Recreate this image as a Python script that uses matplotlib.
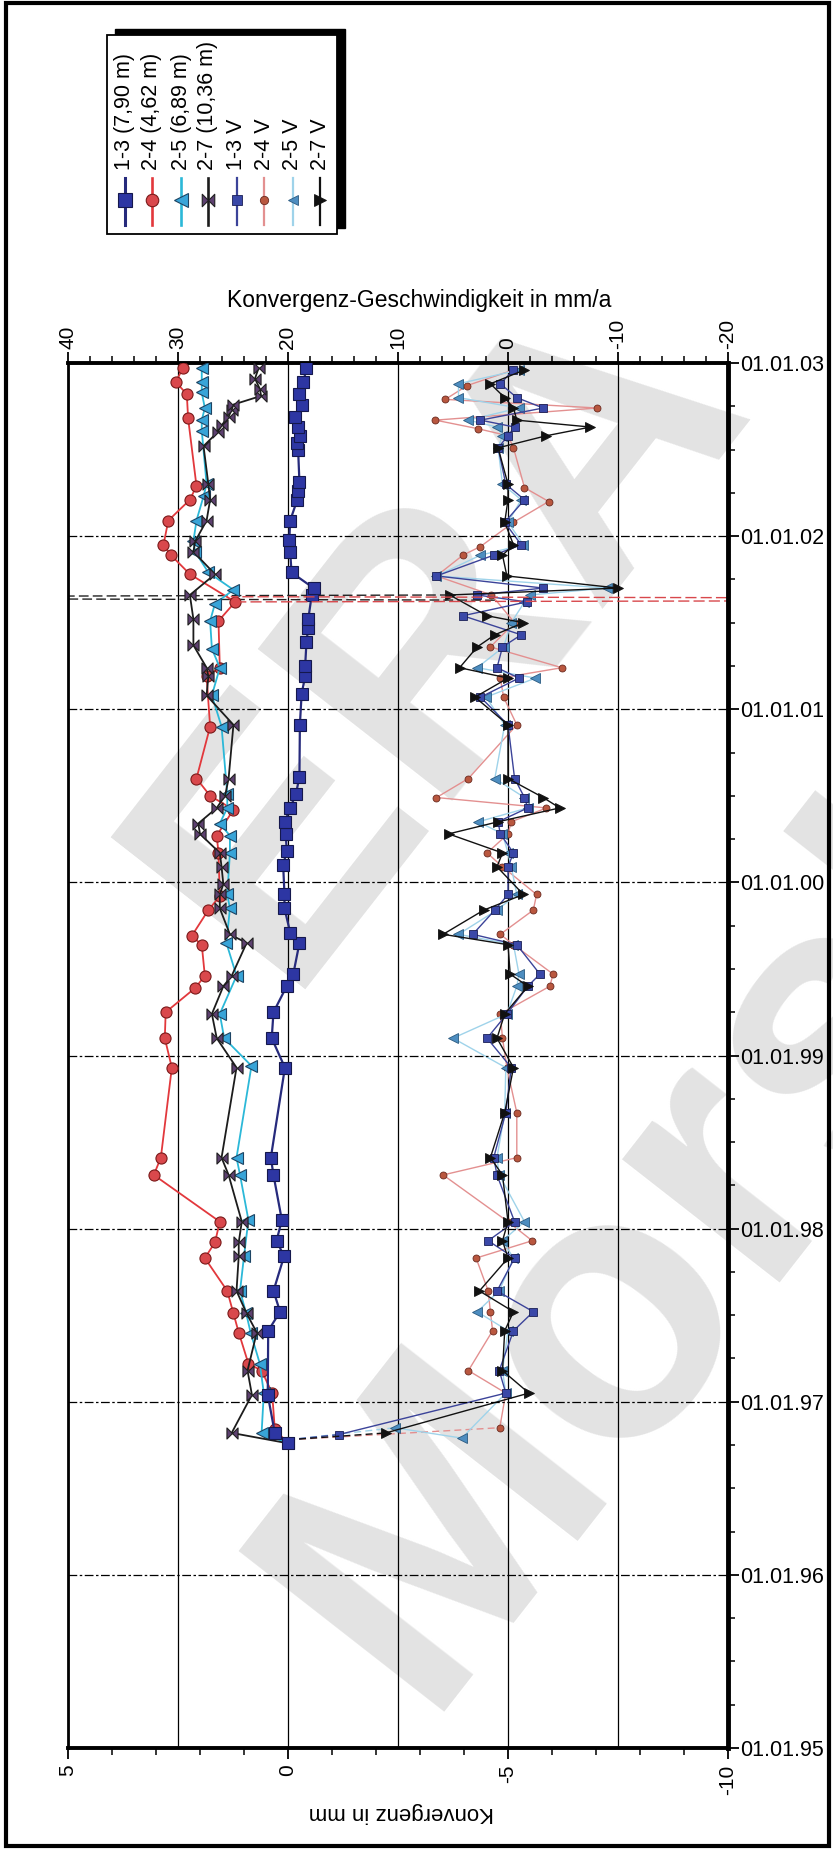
import numpy as np
import matplotlib.pyplot as plt
from matplotlib.lines import Line2D
from matplotlib.patches import Rectangle
from matplotlib.path import Path
from matplotlib.ticker import MultipleLocator

plt.rcParams['font.family'] = ['Liberation Sans', 'DejaVu Sans']

# ---- data: dates as decimal years, convergence in mm, rates in mm/a ----
labels = ['1-3 (7,90 m)', '2-4 (4,62 m)', '2-5 (6,89 m)', '2-7 (10,36 m)',
          '1-3 V', '2-4 V', '2-5 V', '2-7 V']

d13 = [1996.76, 1996.82, 1997.04, 1997.41, 1997.52, 1997.64, 1997.84, 1997.93, 1998.05, 1998.31,
       1998.41, 1998.93, 1999.10, 1999.25, 1999.40, 1999.47, 1999.65, 1999.71, 1999.85, 1999.93,
       2000.10, 2000.18, 2000.28, 2000.35, 2000.43, 2000.51, 2000.61, 2000.91, 2001.09, 2001.19,
       2001.25, 2001.39, 2001.47, 2001.52, 2001.66, 2001.70, 2001.79, 2001.91, 2001.98, 2002.09,
       2002.21, 2002.26, 2002.31, 2002.50, 2002.54, 2002.58, 2002.63, 2002.69, 2002.76, 2002.82,
       2002.89, 2002.97]
k13 = [0.0, 0.30, 0.46, 0.45, 0.18, 0.33, 0.09, 0.26, 0.14, 0.33,
       0.39, 0.07, 0.37, 0.33, 0.03, -0.12, -0.26, -0.05, 0.08, 0.08,
       0.11, 0.03, 0.05, 0.07, -0.05, -0.18, -0.26, -0.27, -0.31, -0.39,
       -0.39, -0.42, -0.46, -0.46, -0.54, -0.58, -0.08, -0.05, -0.03, -0.05,
       -0.21, -0.23, -0.26, -0.23, -0.21, -0.27, -0.23, -0.16, -0.31, -0.26,
       -0.35, -0.42]

d24 = [1996.76, 1996.84, 1997.05, 1997.18, 1997.22, 1997.40, 1997.51, 1997.64, 1997.83, 1997.92,
       1998.04, 1998.31, 1998.41, 1998.93, 1999.10, 1999.25, 1999.39, 1999.46, 1999.64, 1999.69,
       1999.84, 1999.92, 2000.17, 2000.27, 2000.42, 2000.50, 2000.60, 2000.90, 2001.19, 2001.24,
       2001.51, 2001.62, 2001.78, 2001.89, 2001.95, 2002.09, 2002.21, 2002.29, 2002.68, 2002.82,
       2002.89, 2002.97]
k24 = [0.0, 0.30, 0.36, 0.60, 0.90, 1.12, 1.24, 1.38, 1.89, 1.66,
       1.55, 3.05, 2.89, 2.64, 2.80, 2.78, 2.11, 1.89, 1.96, 2.19,
       1.81, 1.55, 1.58, 1.62, 1.24, 1.77, 2.08, 1.77, 1.85, 1.55,
       1.58, 1.20, 2.23, 2.66, 2.83, 2.72, 2.23, 2.08, 2.27, 2.30,
       2.55, 2.39]

d25 = [1996.76, 1996.82, 1997.05, 1997.22, 1997.40, 1997.51, 1997.64, 1997.84, 1998.05, 1998.31,
       1998.41, 1998.94, 1999.10, 1999.24, 1999.46, 1999.65, 1999.85, 1999.93, 2000.17, 2000.27,
       2000.34, 2000.43, 2000.51, 2000.90, 2001.08, 2001.24, 2001.35, 2001.51, 2001.61, 2001.69,
       2001.79, 2001.91, 2001.97, 2002.09, 2002.23, 2002.30, 2002.61, 2002.67, 2002.74, 2002.83,
       2002.89, 2002.97]
k25 = [0.0, 0.60, 0.55, 0.64, 0.85, 0.95, 1.09, 1.00, 0.90, 1.09,
       1.17, 0.83, 1.45, 1.55, 1.17, 1.40, 1.32, 1.38, 1.32, 1.32,
       1.55, 1.38, 1.38, 1.51, 1.73, 1.55, 1.73, 1.77, 1.66, 1.24,
       1.81, 2.11, 2.15, 2.08, 1.92, 1.85, 1.96, 1.96, 1.89, 1.96,
       1.96, 1.96]

d27 = [1996.76, 1996.82, 1997.04, 1997.18, 1997.40, 1997.51, 1997.64, 1997.84, 1997.92, 1998.04,
       1998.31, 1998.41, 1998.93, 1999.10, 1999.24, 1999.40, 1999.46, 1999.65, 1999.70, 1999.85,
       1999.93, 1999.99, 2000.09, 2000.17, 2000.28, 2000.34, 2000.43, 2000.50, 2000.60, 2000.91,
       2001.08, 2001.19, 2001.24, 2001.37, 2001.52, 2001.66, 2001.78, 2001.91, 2001.97, 2002.09,
       2002.21, 2002.30, 2002.52, 2002.60, 2002.64, 2002.69, 2002.73, 2002.76, 2002.81, 2002.85,
       2002.91, 2002.97]
k27 = [0.0, 1.28, 0.82, 0.92, 0.71, 0.94, 1.17, 1.12, 1.12, 1.05,
       1.35, 1.51, 1.17, 1.62, 1.73, 1.47, 1.28, 0.94, 1.32, 1.55,
       1.55, 1.47, 1.51, 1.55, 2.00, 2.04, 1.62, 1.43, 1.35, 1.24,
       1.85, 1.81, 1.85, 2.15, 2.15, 2.23, 1.66, 2.15, 2.11, 1.85,
       1.77, 1.81, 1.92, 1.60, 1.51, 1.35, 1.28, 1.24, 0.61, 0.64,
       0.75, 0.67]

dv13 = [1996.78, 1996.81, 1997.05, 1997.18, 1997.41, 1997.52, 1997.64, 1997.83, 1997.93, 1998.04,
        1998.31, 1998.41, 1998.67, 1998.93, 1999.10, 1999.24, 1999.40, 1999.47, 1999.64, 1999.70,
        1999.84, 1999.93, 2000.09, 2000.17, 2000.28, 2000.35, 2000.43, 2000.49, 2000.60, 2000.91,
        2001.07, 2001.18, 2001.24, 2001.36, 2001.43, 2001.54, 2001.62, 2001.66, 2001.70, 2001.77,
        2001.89, 2001.95, 2002.08, 2002.21, 2002.30, 2002.51, 2002.58, 2002.63, 2002.67, 2002.74,
        2002.80, 2002.88, 2002.96]
v13 = [20.0, 15.4, 0.2, 0.8, -0.5, -2.3, 1.0, -0.6, 1.8, -0.6,
       1.0, 1.3, 0.2, -0.3, 1.9, 0.1, -1.8, -2.9, -0.8, 3.2,
       1.2, 0.0, 0.0, -0.5, 0.7, 0.9, -1.8, -1.5, -0.6, 0.0,
       2.5, -1.0, 1.0, 0.5, -1.2, 4.1, -1.7, 2.8, -3.2, 6.5,
       1.3, -1.2, 0.3, -1.5, 0.2, 0.9, 0.0, -0.6, 2.5, -3.2,
       -0.8, 0.7, -0.5]

dv24 = [1996.78, 1996.85, 1997.05, 1997.18, 1997.41, 1997.52, 1997.64, 1997.83, 1997.93, 1998.04,
        1998.31, 1998.41, 1998.67, 1998.93, 1999.10, 1999.24, 1999.40, 1999.47, 1999.64, 1999.70,
        1999.84, 1999.93, 2000.09, 2000.17, 2000.28, 2000.35, 2000.43, 2000.49, 2000.60, 2000.91,
        2001.07, 2001.18, 2001.24, 2001.36, 2001.50, 2001.66, 2001.77, 2001.89, 2001.94, 2002.08,
        2002.20, 2002.28, 2002.51, 2002.58, 2002.62, 2002.67, 2002.74, 2002.79, 2002.87, 2002.96]
v24 = [20.0, 0.75, 0.2, 3.6, 1.4, 1.6, 1.8, 2.9, -2.2, 0.0,
       5.9, -0.8, -0.8, 0.1, 0.5, 0.7, -3.8, -4.1, -0.5, 0.7,
       -2.3, -2.6, 0.5, 1.9, 0.0, -0.3, -3.5, 6.5, 3.6, -0.8,
       0.4, 0.7, -4.9, 1.6, -0.6, 1.5, 6.5, 4.1, 2.5, -0.5,
       -3.7, -1.5, -0.5, 0.0, 2.7, 6.6, -8.1, 5.7, 3.7, -0.5]

dv25 = [1996.78, 1996.85, 1996.79, 1997.05, 1997.18, 1997.41, 1997.52, 1997.64, 1997.83, 1997.93,
        1998.04, 1998.31, 1998.41, 1998.67, 1998.93, 1999.10, 1999.24, 1999.40, 1999.47, 1999.64,
        1999.70, 1999.84, 1999.93, 2000.09, 2000.17, 2000.28, 2000.35, 2000.43, 2000.49, 2000.60,
        2000.91, 2001.07, 2001.18, 2001.24, 2001.36, 2001.50, 2001.62, 2001.66, 2001.70, 2001.77,
        2001.89, 2001.95, 2002.08, 2002.21, 2002.30, 2002.51, 2002.58, 2002.63, 2002.67, 2002.74,
        2002.80, 2002.88, 2002.96]
v25 = [20.0, 10.3, 4.2, 0.2, 0.5, 0.0, 2.8, 0.8, -0.5, 0.5,
       -1.5, 0.8, 1.0, 0.3, 0.2, 5.0, 0.1, -0.8, -1.0, -0.5,
       4.5, 1.0, -0.8, -0.3, 0.0, 0.5, 2.7, -1.8, -1.5, 1.2,
       0.3, 2.0, -2.5, 2.8, 0.4, -0.3, -1.5, -2.0, -9.0, 6.5,
       2.5, -1.4, 0.0, -1.2, 0.5, 0.9, 0.5, 1.0, 3.6, -1.0,
       4.5, 4.5, -1.0]

dv27 = [1996.78, 1996.82, 1997.05, 1997.18, 1997.41, 1997.52, 1997.64, 1997.83, 1997.93, 1998.04,
        1998.31, 1998.41, 1998.67, 1998.93, 1999.10, 1999.24, 1999.40, 1999.47, 1999.64, 1999.70,
        1999.84, 1999.93, 2000.09, 2000.17, 2000.28, 2000.35, 2000.43, 2000.49, 2000.60, 2000.91,
        2001.07, 2001.18, 2001.24, 2001.36, 2001.43, 2001.50, 2001.54, 2001.66, 2001.70, 2001.77,
        2001.89, 2001.95, 2002.08, 2002.21, 2002.30, 2002.51, 2002.58, 2002.63, 2002.67, 2002.74,
        2002.80, 2002.88, 2002.96]
v27 = [20.0, 11.1, -1.9, 0.5, 0.3, -0.5, 2.6, 0.0, 0.5, 0.0,
       0.5, 1.6, 0.3, -0.5, 1.0, 0.3, -1.8, -0.2, 0.0, 5.9,
       2.2, -1.4, 1.0, 0.5, 5.4, 0.9, -4.7, -3.2, 0.0, 0.0,
       3.0, 0.0, 4.4, 2.8, 1.2, -1.4, 1.9, 5.3, -10.0, 0.1,
       0.5, -0.5, 0.3, 0.0, 0.0, 0.9, -3.5, -7.5, -0.8, -0.5,
       0.3, 1.6, -1.5]

# outliers around mid 2001 that run off the scale
spike24_d = [2001.62, 2001.635, 2001.65]
spike24_k = [1.20, -30.0, 1.30]
spike27_d = [2001.66, 2001.645, 2001.63]
spike27_v = [5.3, 90.0, 1.0]

mm_ticks = [5, 0, -5, -10]
rate_ticks = [40, 30, 20, 10, 0, -10, -20]
year_ticks = list(range(1995, 2004))

# ---- layout (pixel based) ----
W, H = 833, 1851


def fx(px):
    return px / W


def fy(py):
    return 1 - py / H


bowtie = Path([(-1, 1), (-1, -1), (1, 1), (1, -1), (-1, 1)],
              [Path.MOVETO, Path.LINETO, Path.LINETO, Path.LINETO, Path.CLOSEPOLY])

styles = {
    '1-3 (7,90 m)': dict(color='#262a7c', lw=1.6, marker='s', ms=9, mfc='#2d36a3', mec='#15184d', mew=0.8),
    '2-4 (4,62 m)': dict(color='#e2383c', lw=1.3, marker='o', ms=8, mfc='#d9484c', mec='#7a1a1a', mew=0.8),
    '2-5 (6,89 m)': dict(color='#2bb8d8', lw=1.3, marker='<', ms=9, mfc='#38a4d8', mec='#1d4463', mew=0.8),
    '2-7 (10,36 m)': dict(color='#1c1c1c', lw=1.3, marker=bowtie, ms=8, mfc='#5d4070', mec='#202020', mew=0.8),
    '1-3 V': dict(color='#3b4399', lw=1.0, marker='s', ms=6, mfc='#3a48a8', mec='#1a1f55', mew=0.6),
    '2-4 V': dict(color='#e39090', lw=1.0, marker='o', ms=5, mfc='#b9573f', mec='#6a2a20', mew=0.6),
    '2-5 V': dict(color='#9fd3ea', lw=1.0, marker='<', ms=6.5, mfc='#4d8dc0', mec='#2a5a80', mew=0.6),
    '2-7 V': dict(color='#111111', lw=1.0, marker='>', ms=7, mfc='#111111', mec='#111111', mew=0.6),
}

fig = plt.figure(figsize=(W / 100, H / 100), dpi=100)

# watermark
fig.text(fx(282), fy(989), 'ERA', rotation=52, rotation_mode='anchor', ha='left', va='baseline',
         fontsize=258, fontweight='bold', color='#e3e3e3', zorder=-10)
fig.text(fx(420), fy(1712), 'Morsleben', rotation=52, rotation_mode='anchor', ha='left', va='baseline',
         fontsize=272, fontweight='bold', color='#e3e3e3', zorder=-10)

ax = fig.add_axes([fx(68), fy(1748), (728 - 68) / W, (1748 - 363) / H])
ax.patch.set_visible(False)
top = ax.twiny()
ax.set_zorder(2)
top.set_zorder(1)

ax.set_xlim(5, -10)
top.set_xlim(40, -20)
ax.set_ylim(1995, 2003)

# rates (top axis)
for lab, d, v in [('2-4 V', dv24, v24), ('2-5 V', dv25, v25), ('1-3 V', dv13, v13), ('2-7 V', dv27, v27)]:
    st = dict(styles[lab])
    top.plot(v[:2], d[:2], color=st['color'], lw=st['lw'], ls=(0, (5, 3)))
    top.plot(v[1:], d[1:], **st)
top.plot(spike27_v, spike27_d, color='#222222', lw=1.0, ls=(0, (7, 3)))

# convergence (bottom axis)
for lab, d, k in [('2-4 (4,62 m)', d24, k24), ('2-5 (6,89 m)', d25, k25),
                  ('2-7 (10,36 m)', d27, k27), ('1-3 (7,90 m)', d13, k13)]:
    ax.plot(k, d, **styles[lab])
ax.plot(spike24_k, spike24_d, color='#d8484c', lw=1.0, ls=(0, (8, 3)))

# axes, ticks, grid
ax.set_xticks(mm_ticks, labels=[str(t) for t in mm_ticks], rotation=90)
ax.xaxis.set_minor_locator(MultipleLocator(1))
ax.tick_params(axis='x', which='major', direction='out', length=8, width=1.3, labelsize=15, pad=4)
ax.tick_params(axis='x', which='minor', direction='out', length=5, width=1.1)

top.set_xticks(rate_ticks, labels=[str(t) for t in rate_ticks], rotation=90)
top.xaxis.set_minor_locator(MultipleLocator(2))
top.tick_params(axis='x', which='major', direction='out', length=8, width=1.3, labelsize=15, pad=2)
top.tick_params(axis='x', which='minor', direction='out', length=5, width=1.1)

ax.yaxis.tick_right()
ax.set_yticks(year_ticks, labels=[f'01.01.{y % 100:02d}' for y in year_ticks])
ax.yaxis.set_minor_locator(MultipleLocator(0.25))
ax.tick_params(axis='y', which='major', direction='out', length=8, width=1.3, labelsize=15.5, pad=0.5)
ax.tick_params(axis='y', which='minor', direction='out', length=5, width=1.1)

ax.grid(axis='y', which='major', color='black', lw=0.9, ls=(0, (7, 2, 2, 2)))
top.grid(axis='x', which='major', color='black', lw=0.9, ls='-')

ax.spines['top'].set_visible(False)
ax.spines['left'].set_linewidth(2.0)
ax.spines['bottom'].set_linewidth(2.8)
ax.spines['right'].set_linewidth(3.5)
for s in ['left', 'bottom', 'right']:
    top.spines[s].set_visible(False)
top.spines['top'].set_linewidth(2.8)

fig.text(fx(419), fy(300), 'Konvergenz-Geschwindigkeit in mm/a', ha='center', va='center', fontsize=16.5)
fig.text(fx(401), fy(1812), 'Konvergenz in mm', rotation=180, ha='center', va='center', fontsize=16)

# legend (rotated, drawn by hand)
fig.add_artist(Rectangle((fx(115), fy(228)), (345 - 115) / W, (228 - 29) / H,
                         transform=fig.transFigure, facecolor='black', edgecolor='black', zorder=5))
fig.add_artist(Rectangle((fx(107), fy(234)), (337 - 107) / W, (234 - 35) / H,
                         transform=fig.transFigure, facecolor='white', edgecolor='black', lw=1.3, zorder=6))
leg_x = [125, 152, 181, 208, 237, 264, 293, 320]
for lab, x in zip(labels, leg_x):
    st = styles[lab]
    fig.add_artist(Line2D([fx(x), fx(x)], [fy(178), fy(225)], transform=fig.transFigure,
                          color=st['color'], lw=st['lw'] + 0.6, zorder=7))
    fig.add_artist(Line2D([fx(x)], [fy(200)], transform=fig.transFigure, ls='none',
                          marker=st['marker'], ms=st['ms'] + 1, mfc=st['mfc'], mec=st['mec'],
                          mew=st['mew'], zorder=8))
    fig.text(fx(x), fy(170), lab, rotation=90, ha='center', va='bottom', fontsize=15.5, zorder=8)

# outer frame
fig.add_artist(Rectangle((fx(6), fy(1846)), (829 - 6) / W, (1846 - 3) / H, transform=fig.transFigure,
                         fill=False, edgecolor='black', lw=3, zorder=10))

fig.savefig('out.png', dpi=100)
